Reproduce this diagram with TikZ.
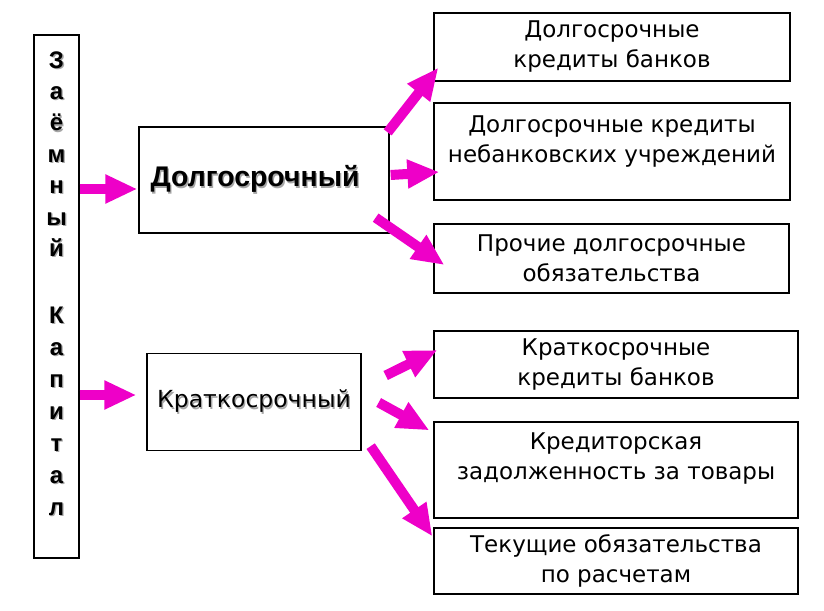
\documentclass[tikz,border=0pt]{standalone}
\usepackage{fontspec}
\setmainfont{DejaVu Sans}
\newfontfamily\arialfont{Liberation Sans}
\usetikzlibrary{arrows.meta,calc}
\definecolor{arrpink}{RGB}{238,0,200}
\newcommand\shtext[2][1.5pt]{\makebox[0pt][l]{\hspace{#1}\raisebox{-#1}{\color{black!35}#2}}#2}
\begin{document}
\begin{tikzpicture}[x=1pt,y=-1pt,
  box/.style={draw=black,line width=1.3pt,inner sep=0pt,fill=white},
  leaf/.style={box,align=center,font=\fontsize{23}{30}\selectfont},
  barrow/.style={draw=arrpink,line width=10pt,-{Triangle[length=32pt,width=27pt]}},
  letter/.style={anchor=base,inner sep=0pt,font=\arialfont\bfseries\fontsize{24}{24}\selectfont}]
\useasboundingbox (0,0) rectangle (824,610);
% left bar
\node[box,minimum width=45pt,minimum height=523pt] (bar) at (56.5,296.5) {};
\foreach \ch [count=\i] in {З,а,ё,м,н,ы,й}
  \node[letter] (la\i) at ({56.5},{68+31.4*(\i-1)}) {\shtext[1.3pt]{\ch}};
\foreach \ch [count=\i] in {К,а,п,и,т,а,л}
  \node[letter] (lb\i) at ({56.5},{323+32*(\i-1)}) {\shtext[1.3pt]{\ch}};
% middle boxes
\node[box,minimum width=250pt,minimum height=106pt,font=\arialfont\bfseries\fontsize{28.4}{28.4}\selectfont] (dolg) at (264,180) {\hspace*{-18pt}\raisebox{-2pt}{\shtext[1.4pt]{Долгосрочный}}};
\node[box,minimum width=214pt,minimum height=97pt,font=\fontsize{23.5}{23.5}\selectfont] (krat) at (254,402) {\shtext[1.3pt]{Краткосрочный}};
% right boxes
\node[leaf,minimum width=356pt,minimum height=68pt] (b1) at (612,47) {\raisebox{-3pt}{Долгосрочные}\\\raisebox{-3pt}{кредиты банков}};
\node[leaf,minimum width=356pt,minimum height=97pt] (b2) at (612,151.5) {Долгосрочные кредиты\\небанковских учреждений\\[-14pt]\strut};
\node[leaf,minimum width=355pt,minimum height=69pt] (b3) at (611.5,258.5) {Прочие долгосрочные\\обязательства};
\node[leaf,minimum width=364pt,minimum height=67pt] (b4) at (616,364.5) {Краткосрочные\\кредиты банков};
\node[leaf,minimum width=364pt,minimum height=96pt] (b5) at (616,470) {Кредиторская\\задолженность за товары\\[-12pt]\strut};
\node[leaf,minimum width=364pt,minimum height=66pt] (b6) at (616,561) {Текущие обязательства\\по расчетам};
% arrows
\draw[barrow] ($(bar.east |- dolg.west)+(0,9)$) -- ($(dolg.west)+(-1,9)$);
\draw[barrow] ($(bar.east |- krat.west)+(0,-7)$) -- ($(krat.west)+(-10,-7)$);
\draw[barrow] ($(dolg.north east)+(-2,6)$) -- ($(b1.south west)+(5,-14)$);
\draw[barrow] ($(dolg.east)+(1,-5)$) -- ($(b2.west)+(6,20.5)$);
\draw[barrow] ($(dolg.south east)+(-14,-16)$) -- ($(b3.west)+(11,6.5)$);
\draw[barrow] ($(krat.east)+(24,-26.5)$) -- ($(b4.west)+(4,-14.5)$);
\draw[barrow] ($(krat.east)+(17,0.5)$) -- ($(b5.north west)+(-4,9)$);
\draw[barrow] ($(krat.south east)+(9,-5)$) -- ($(b6.north west)+(-1,9)$);
\end{tikzpicture}
\end{document}
